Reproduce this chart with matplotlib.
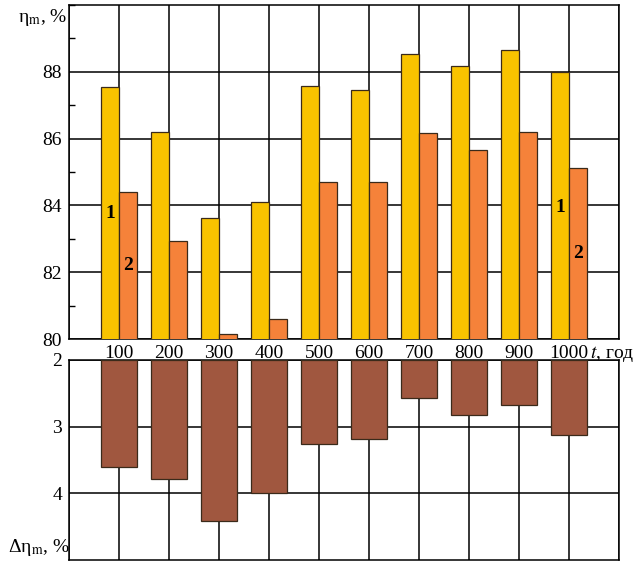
import matplotlib.pyplot as plt
from matplotlib.ticker import MultipleLocator

# --- data ---
t_years = [100, 200, 300, 400, 500, 600, 700, 800, 900, 1000]
eta_1 = [87.55, 86.19, 83.63, 84.09, 87.57, 87.46, 88.52, 88.16, 88.65, 87.98]
eta_2 = [84.39, 82.94, 80.16, 80.60, 84.71, 84.70, 86.17, 85.67, 86.20, 85.13]
delta_eta = [3.60, 3.78, 4.41, 4.00, 3.26, 3.18, 2.57, 2.82, 2.68, 3.12]
tick_labels = ['100', '200', '300', '400', '500', '600', '700', '800', '900', '1000']

plt.rcParams['font.family'] = ['Liberation Serif', 'DejaVu Serif']
plt.rcParams['mathtext.fontset'] = 'stix'

W, H = 636, 563
fig = plt.figure(figsize=(W / 100, H / 100), dpi=100)

def px_axes(x0, y0, x1, y1):
    return fig.add_axes([x0 / W, 1 - y1 / H, (x1 - x0) / W, (y1 - y0) / H])

yellow = '#F9C300'
orange = '#F5823A'
brown = '#A0573F'
edge = '#3a2a1a'
bw = 36
fs = 14

# top panel: efficiency
ax = px_axes(69, 5, 619, 339)
ax.bar([t - bw / 2 for t in t_years], eta_1, width=bw, color=yellow,
       edgecolor=edge, linewidth=0.9, zorder=3)
ax.bar([t + bw / 2 for t in t_years], eta_2, width=bw, color=orange,
       edgecolor=edge, linewidth=0.9, zorder=3)
ax.set_xlim(0, 1100)
ax.set_ylim(80, 90)
ax.set_xticks(range(0, 1101, 100))
ax.set_xticklabels([''] + tick_labels + [''])
ax.set_yticks([80, 82, 84, 86, 88])
ax.yaxis.set_minor_locator(MultipleLocator(1))
ax.tick_params(axis='y', which='major', length=0, labelsize=fs, pad=5)
ax.tick_params(axis='y', which='minor', length=4, direction='in', width=1)
ax.tick_params(axis='x', length=0, labelsize=fs, pad=4)
ax.grid(True, color='black', linewidth=1.1, zorder=1)
for s in ax.spines.values():
    s.set_linewidth(1.1)
ax.text(1042, -0.045, r'$t$, год', transform=ax.get_xaxis_transform(),
        fontsize=fs, ha='left', va='center', clip_on=False)
fig.text(18 / W, 1 - 18 / H, r'η$_{\rm m}$, %', fontsize=fs, ha='left', va='center')

ax.text(t_years[0] - bw / 2, 83.75, '1', fontsize=14, fontweight='bold', ha='center', va='center', zorder=4)
ax.text(t_years[0] + bw / 2, 82.2, '2', fontsize=14, fontweight='bold', ha='center', va='center', zorder=4)
ax.text(t_years[-1] - bw / 2, 83.95, '1', fontsize=14, fontweight='bold', ha='center', va='center', zorder=4)
ax.text(t_years[-1] + bw / 2, 82.55, '2', fontsize=14, fontweight='bold', ha='center', va='center', zorder=4)

# bottom panel: efficiency drop
ax2 = px_axes(69, 360, 619, 560)
ax2.bar(t_years, [d - 2 for d in delta_eta], width=2 * bw, bottom=2, color=brown,
        edgecolor=edge, linewidth=0.9, zorder=3)
ax2.set_xlim(0, 1100)
ax2.set_ylim(5, 2)
ax2.set_xticks(range(0, 1101, 100))
ax2.set_xticklabels([])
ax2.set_yticks([2, 3, 4])
ax2.tick_params(axis='y', length=0, labelsize=fs, pad=5)
ax2.tick_params(axis='x', length=0)
ax2.grid(True, color='black', linewidth=1.1, zorder=1)
for s in ax2.spines.values():
    s.set_linewidth(1.1)
fig.text(8 / W, 1 - 548 / H, r'Δη$_{\rm m}$, %', fontsize=fs, ha='left', va='center')

fig.savefig('out.png', dpi=100)
